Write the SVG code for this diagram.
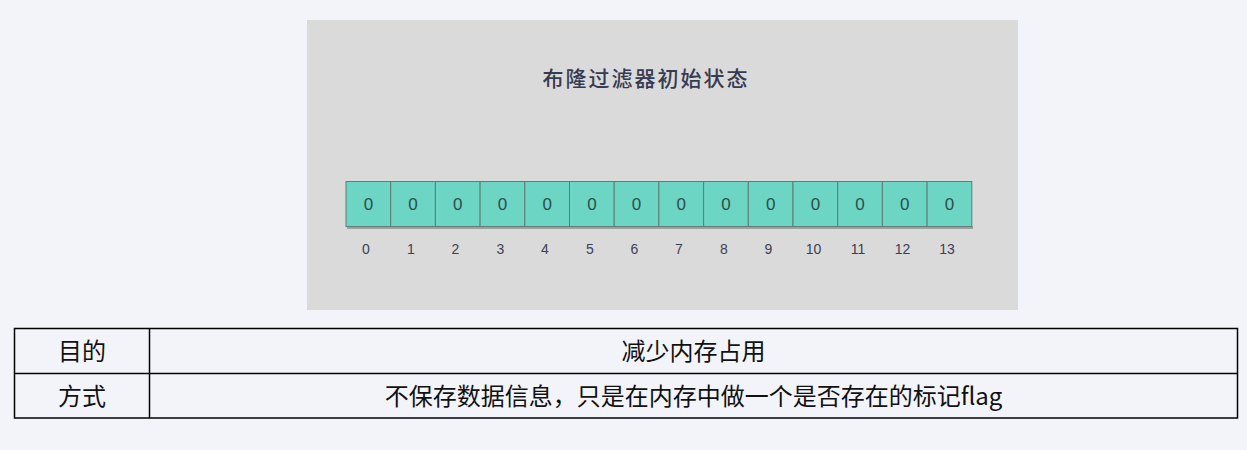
<svg xmlns="http://www.w3.org/2000/svg" width="1247" height="450" viewBox="0 0 1247 450">
<defs>
<style>
.bg{fill:#f3f4f9}
.panel{fill:#dadada}
.cell{fill:#6cd5c4;stroke:#5e7d77;stroke-width:1}
.shadow{fill:#6f6f6f;opacity:0.55}
.v{font-family:"Liberation Sans",Arial,sans-serif;font-size:17px;fill:#2c4f4a;text-anchor:middle}
.idx{font-family:"Liberation Sans",Arial,sans-serif;font-size:14px;fill:#3c4055;text-anchor:middle}
.title{font-family:"Noto Sans CJK SC","Noto Sans",sans-serif;font-size:21px;font-weight:500;letter-spacing:2px;fill:#363b52;text-anchor:middle}
.tb{fill:none;stroke:#000;stroke-width:1.5}
.tt{font-family:"Noto Sans CJK SC","Noto Sans",sans-serif;font-size:24px;fill:#111;text-anchor:middle}
</style>
</defs>
<rect class="bg" x="0" y="0" width="1247" height="450"/>
<g id="panel">
<rect class="panel" x="307" y="20" width="711" height="290"/>
<text class="title" x="646" y="86">布隆过滤器初始状态</text>
</g>
<g id="bits">
<rect class="shadow" x="347" y="226" width="626" height="3"/>
<g id="cell0"><rect class="cell" x="346" y="181.5" width="44.7" height="45"/><text class="v" x="368.4" y="210">0</text><text class="idx" x="366" y="254">0</text></g>
<g id="cell1"><rect class="cell" x="390.7" y="181.5" width="44.7" height="45"/><text class="v" x="413.1" y="210">0</text><text class="idx" x="411" y="254">1</text></g>
<g id="cell2"><rect class="cell" x="435.4" y="181.5" width="44.7" height="45"/><text class="v" x="457.8" y="210">0</text><text class="idx" x="455.5" y="254">2</text></g>
<g id="cell3"><rect class="cell" x="480.1" y="181.5" width="44.7" height="45"/><text class="v" x="502.5" y="210">0</text><text class="idx" x="500.5" y="254">3</text></g>
<g id="cell4"><rect class="cell" x="524.8" y="181.5" width="44.7" height="45"/><text class="v" x="547.2" y="210">0</text><text class="idx" x="545" y="254">4</text></g>
<g id="cell5"><rect class="cell" x="569.5" y="181.5" width="44.7" height="45"/><text class="v" x="591.9" y="210">0</text><text class="idx" x="590" y="254">5</text></g>
<g id="cell6"><rect class="cell" x="614.2" y="181.5" width="44.7" height="45"/><text class="v" x="636.6" y="210">0</text><text class="idx" x="634.5" y="254">6</text></g>
<g id="cell7"><rect class="cell" x="658.9" y="181.5" width="44.7" height="45"/><text class="v" x="681.3" y="210">0</text><text class="idx" x="679" y="254">7</text></g>
<g id="cell8"><rect class="cell" x="703.6" y="181.5" width="44.7" height="45"/><text class="v" x="726" y="210">0</text><text class="idx" x="724" y="254">8</text></g>
<g id="cell9"><rect class="cell" x="748.3" y="181.5" width="44.7" height="45"/><text class="v" x="770.7" y="210">0</text><text class="idx" x="768.5" y="254">9</text></g>
<g id="cell10"><rect class="cell" x="793" y="181.5" width="44.7" height="45"/><text class="v" x="815.4" y="210">0</text><text class="idx" x="813.5" y="254">10</text></g>
<g id="cell11"><rect class="cell" x="837.7" y="181.5" width="44.7" height="45"/><text class="v" x="860.1" y="210">0</text><text class="idx" x="858" y="254">11</text></g>
<g id="cell12"><rect class="cell" x="882.4" y="181.5" width="44.7" height="45"/><text class="v" x="904.8" y="210">0</text><text class="idx" x="902.5" y="254">12</text></g>
<g id="cell13"><rect class="cell" x="927.1" y="181.5" width="44.7" height="45"/><text class="v" x="949.5" y="210">0</text><text class="idx" x="947" y="254">13</text></g>
</g>
<g id="table">
<rect class="tb" x="14.5" y="328.5" width="1223" height="89.5"/>
<line class="tb" x1="14.5" y1="373.5" x2="1237.5" y2="373.5"/>
<line class="tb" x1="149.5" y1="328.5" x2="149.5" y2="418"/>
<text class="tt" x="82" y="360">目的</text>
<text class="tt" x="693.5" y="360">减少内存占用</text>
<text class="tt" x="82" y="405">方式</text>
<text class="tt" x="693.5" y="405">不保存数据信息，只是在内存中做一个是否存在的标记flag</text>
</g>
</svg>
